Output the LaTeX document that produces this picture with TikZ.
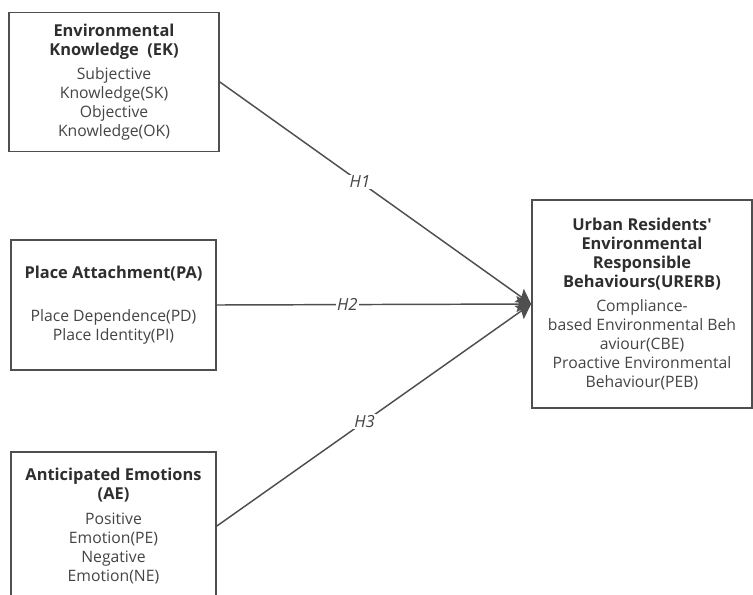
\documentclass[tikz,border=0pt]{standalone}
\usepackage{fontspec}
\setmainfont{Open Sans}
\usepackage{xcolor}
\usetikzlibrary{arrows.meta}
\definecolor{linegray}{HTML}{4F4F4F}
\definecolor{titlegray}{HTML}{2E2E2E}
\definecolor{textgray}{HTML}{454545}
\newcommand{\boxtitle}[1]{{\fontsize{12.3}{14.25}\selectfont\bfseries\color{titlegray}#1}}
\tikzset{
    box/.style={
        draw=linegray,line width=1.3pt,
        align=center,text=textgray,inner sep=0pt,
        font=\fontsize{11.8}{14.25}\selectfont
    },
    hypline/.style={
        draw=linegray,line width=1.1pt,
        -{Stealth[length=11pt,width=12pt,inset=2pt]}
    },
    hyplabel/.style={
        fill=white,text=textgray,inner sep=1pt,
        font=\itshape\fontsize{12.5}{13}\selectfont
    }
}

\begin{document}
\begin{tikzpicture}[x=0.75pt,y=-0.75pt]
    \clip (0,0) rectangle (753,594);
    \fill[white] (0,0) rectangle (753,594);
    % factor boxes
    \node[box,minimum width=157.5pt,minimum height=104.25pt] (EK) at (114,82)
        {\boxtitle{Environmental}\\\boxtitle{Knowledge\ \ (EK)}\\[4pt]
         Subjective\\Knowledge(SK)\\Objective\\Knowledge(OK)};
    \node[box,minimum width=153.75pt,minimum height=97.5pt] (PA) at (113.5,305)
        {\boxtitle{Place Attachment(PA)}\\[18pt]
         Place Dependence(PD)\\Place Identity(PI)};
    \node[box,minimum width=153.75pt,minimum height=111pt] (AE) at (113.5,526)
        {\boxtitle{Anticipated Emotions}\\\boxtitle{(AE)}\\[4pt]
         Positive\\Emotion(PE)\\Negative\\Emotion(NE)};
    \node[box,minimum width=165pt,minimum height=156pt] (URERB) at (642,304)
        {\boxtitle{Urban Residents\textquotesingle}\\\boxtitle{Environmental}\\
         \boxtitle{Responsible}\\\boxtitle{Behaviours(URERB)}\\[4pt]
         Compliance-\\based Environmental Beh\\aviour(CBE)\\
         Proactive Environmental\\Behaviour(PEB)};
    % hypotheses
    \draw[hypline] (EK.east) -- node[hyplabel,pos=0.45] (H1) {H1} (URERB.west);
    \draw[hypline] (PA.east) -- node[hyplabel,pos=0.415] (H2) {H2} (URERB.west);
    \draw[hypline] (AE.east) -- node[hyplabel,pos=0.47] (H3) {H3} (URERB.west);
\end{tikzpicture}
\end{document}
